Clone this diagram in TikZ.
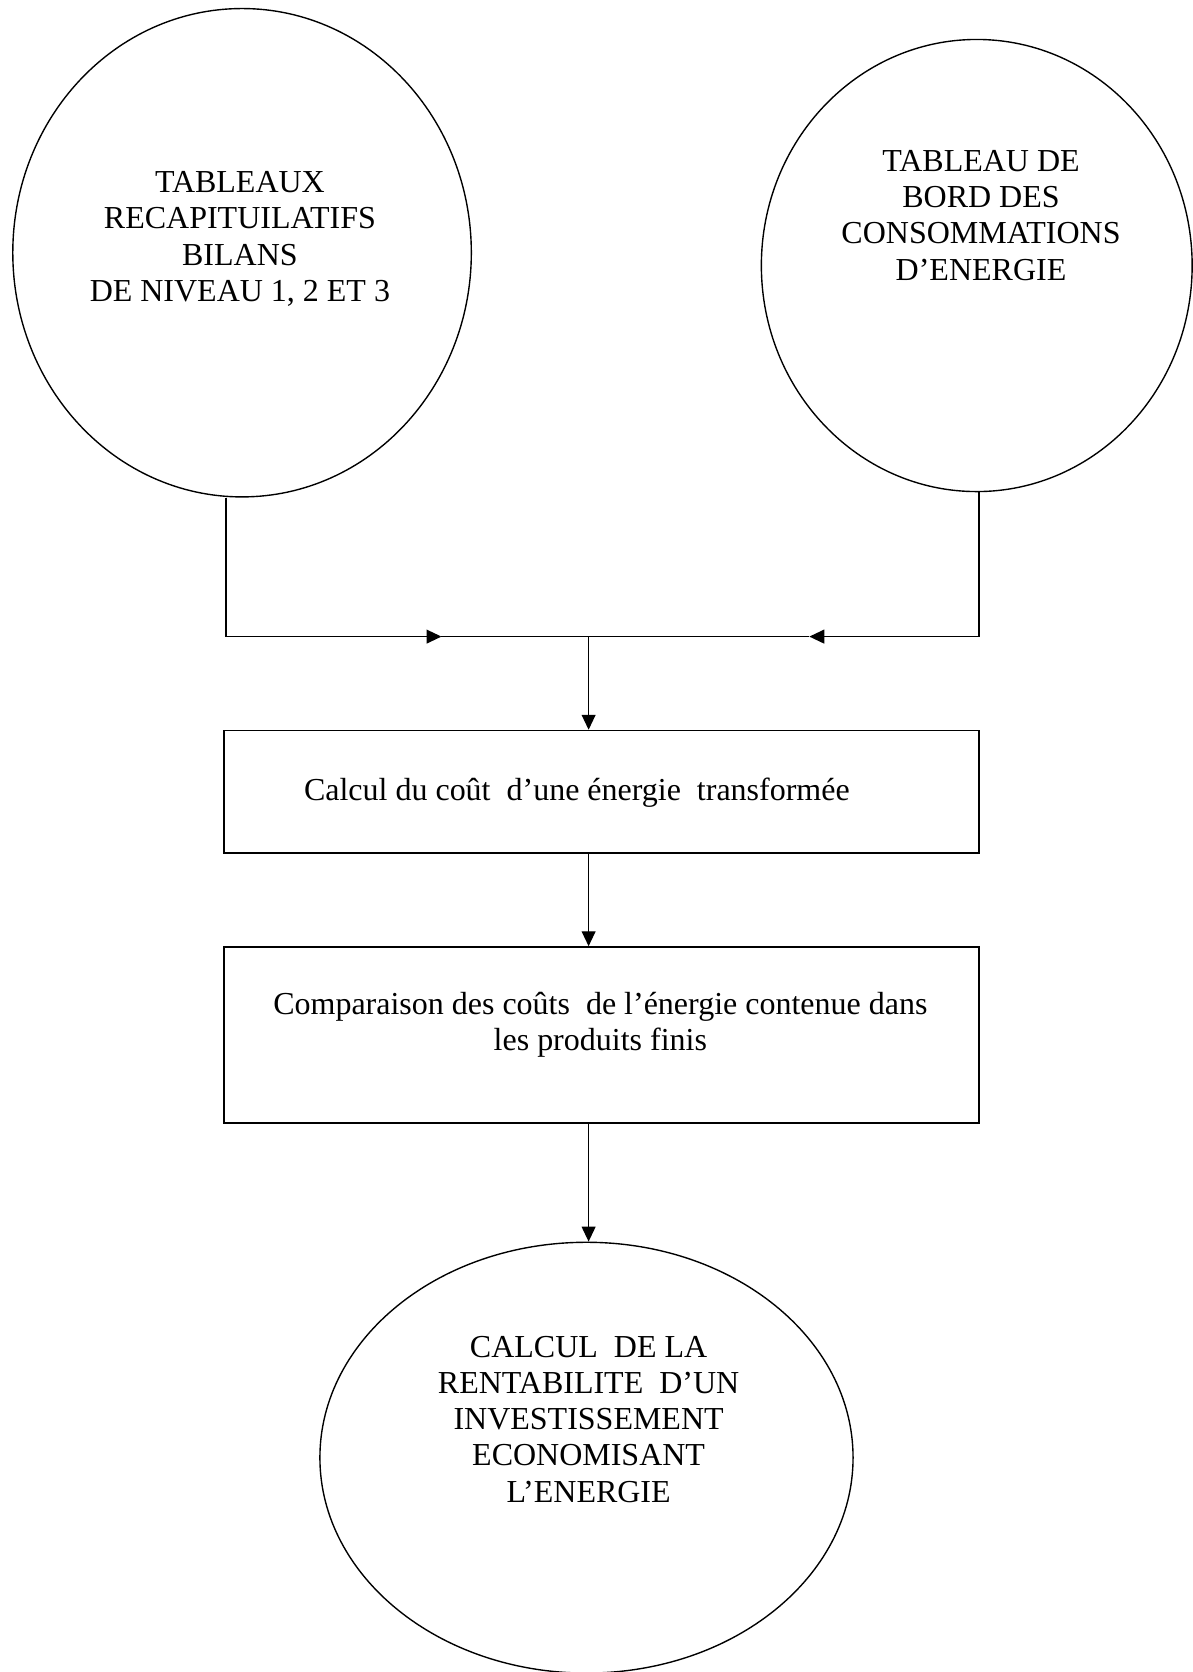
\documentclass[tikz,border=0pt]{standalone}
\usepackage{fontspec}
\setmainfont{Liberation Serif}
\usetikzlibrary{shapes.geometric,arrows.meta}

\begin{document}
\begin{tikzpicture}[x=1pt,y=-1pt,line width=1.3pt,
  bubble/.style={draw,ellipse,inner sep=0pt},
  panel/.style={draw,rectangle,inner sep=0pt,minimum width=708pt},
  caption/.style={font=\fontsize{30}{34}\selectfont,align=center,inner sep=0pt},
  flow/.style={-{Triangle[length=14pt,width=13pt]}},
  feed/.style={-{Triangle[length=14pt,width=13pt]}}]

\useasboundingbox (0,0) rectangle (1118,1568);

% source bubbles
\node[bubble,minimum width=430pt,minimum height=458pt] (recap) at (227,237) {};
\node[caption] (recaptxt) at (225,224)
  {TABLEAUX\\RECAPITUILATIFS\\BILANS\\DE NIVEAU 1, 2 ET 3};

\node[bubble,minimum width=404pt,minimum height=424pt] (bord) at (916,249) {};
\node[caption] (bordtxt) at (920,202)
  {TABLEAU DE\\BORD DES\\CONSOMMATIONS\\D’ENERGIE};

% processing steps
\node[panel,minimum height=115pt] (cost) at (564,742.5) {};
\node[caption,anchor=base] (costtxt) at (541,751)
  {Calcul du coût\ \ d’une énergie\ \ transformée};

\node[panel,minimum height=165pt] (compare) at (564,970.5) {};
\node[caption] (comparetxt) at (563,961)
  {Comparaison des coûts\ \ de l’énergie contenue dans\\les produits finis};

% result bubble
\node[bubble,minimum width=500pt,minimum height=404pt] (result) at (550,1367) {};
\node[caption] (resulttxt) at (552,1331)
  {CALCUL\ \ DE LA\\RENTABILITE\ \ D’UN\\INVESTISSEMENT\\ECONOMISANT\\L’ENERGIE};

% collector line
\coordinate (lfoot) at (212,597);
\coordinate (rfoot) at (918,597);
\coordinate (mid) at (552,597);
\coordinate (ltip) at (414,597);
\coordinate (rtip) at (759,597);

\draw (recap.south -| lfoot) -- (lfoot);
\draw (bord.south -| rfoot) -- (rfoot);
\draw[feed] (lfoot) -- (ltip);
\draw (ltip) -- (rtip);
\draw[feed] (rfoot) -- (rtip);

\draw[flow] (mid) -- (mid |- cost.north);
\draw[flow] (cost.south -| mid) -- (mid |- compare.north);
\draw[flow] (compare.south -| mid) -- (result.north -| mid);
\end{tikzpicture}
\end{document}
